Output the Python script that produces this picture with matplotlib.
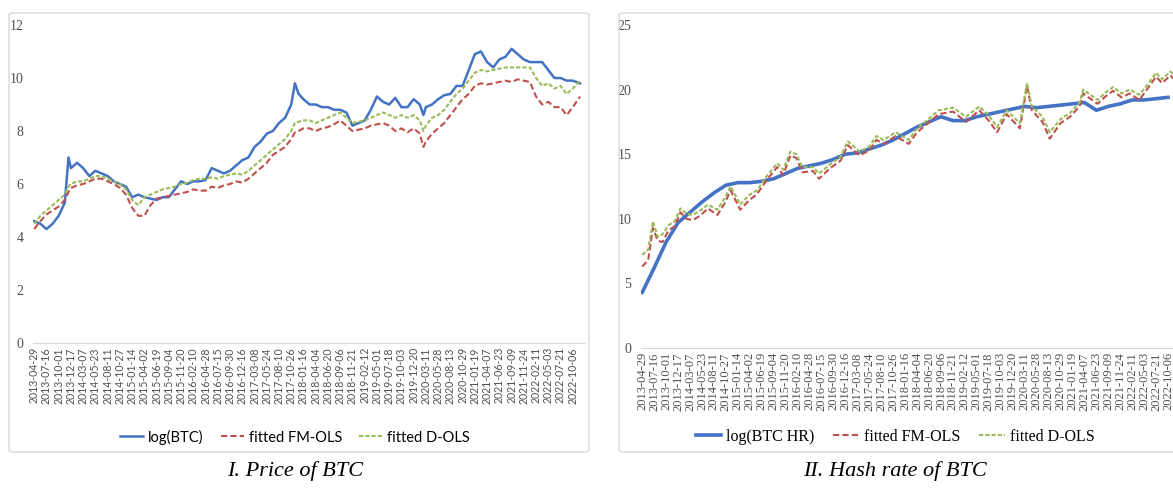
import numpy as np
import matplotlib
matplotlib.use("Agg")
import matplotlib.pyplot as plt
from matplotlib.patches import FancyBboxPatch

# tick labels (category axis, one label every 55 trading days)
date_labels = [
    "2013-04-29", "2013-07-16", "2013-10-01", "2013-12-17", "2014-03-07", "2014-05-23",
    "2014-08-11", "2014-10-27", "2015-01-14", "2015-04-02", "2015-06-19", "2015-09-04",
    "2015-11-20", "2016-02-10", "2016-04-28", "2016-07-15", "2016-09-30", "2016-12-16",
    "2017-03-08", "2017-05-24", "2017-08-10", "2017-10-26", "2018-01-16", "2018-04-04",
    "2018-06-20", "2018-09-06", "2018-11-21", "2019-02-12", "2019-05-01", "2019-07-18",
    "2019-10-03", "2019-12-20", "2020-03-11", "2020-05-28", "2020-08-13", "2020-10-29",
    "2021-01-19", "2021-04-07", "2021-06-23", "2021-09-09", "2021-11-24", "2022-02-11",
    "2022-05-03", "2022-07-21", "2022-10-06",
]

# --- panel I: price of BTC (x in tick-label units) ---
price_pos = [0, 0.5, 1, 1.5, 2, 2.5, 2.8, 3, 3.5, 4,
             4.5, 5, 5.5, 6, 6.5, 7, 7.5, 8, 8.5, 9,
             9.5, 10, 10.5, 11, 11.5, 12, 12.5, 13, 13.5, 14,
             14.5, 15, 15.5, 16, 16.5, 17, 17.5, 18, 18.5, 19,
             19.5, 20, 20.5, 21, 21.3, 21.6, 22, 22.5, 23, 23.5,
             24, 24.5, 25, 25.5, 26, 26.5, 27, 27.5, 28, 28.5,
             29, 29.5, 30, 30.5, 31, 31.5, 31.8, 32, 32.5, 33,
             33.5, 34, 34.5, 35, 35.5, 36, 36.5, 37, 37.5, 38,
             38.5, 39, 39.5, 40, 40.5, 41, 41.5, 42, 42.5, 43,
             43.5, 44, 44.6]

log_btc = [4.6, 4.5, 4.3, 4.5, 4.8, 5.3, 7.0, 6.6, 6.8, 6.6,
           6.3, 6.5, 6.4, 6.3, 6.1, 6.0, 5.9, 5.5, 5.6, 5.5,
           5.45, 5.4, 5.5, 5.5, 5.8, 6.1, 6.0, 6.1, 6.1, 6.15,
           6.6, 6.5, 6.4, 6.5, 6.7, 6.9, 7.0, 7.4, 7.6, 7.9,
           8.0, 8.3, 8.5, 9.0, 9.8, 9.4, 9.2, 9.0, 9.0, 8.9,
           8.9, 8.8, 8.8, 8.7, 8.2, 8.3, 8.4, 8.8, 9.3, 9.1,
           9.0, 9.25, 8.9, 8.9, 9.2, 9.0, 8.6, 8.9, 9.0, 9.2,
           9.35, 9.4, 9.7, 9.7, 10.3, 10.9, 11.0, 10.6, 10.4, 10.7,
           10.8, 11.1, 10.9, 10.7, 10.6, 10.6, 10.6, 10.3, 10.0, 10.0,
           9.9, 9.9, 9.8]

price_fm_ols = [4.3, 4.6, 4.85, 5.0, 5.15, 5.4, 5.7, 5.85, 5.95, 6.0,
                6.1, 6.2, 6.2, 6.1, 6.0, 5.85, 5.6, 5.1, 4.8, 4.8,
                5.2, 5.45, 5.5, 5.55, 5.6, 5.65, 5.7, 5.8, 5.75, 5.75,
                5.9, 5.85, 5.95, 6.0, 6.1, 6.05, 6.2, 6.4, 6.6, 6.8,
                7.1, 7.25, 7.4, 7.7, 7.95, 8.0, 8.1, 8.1, 8.0, 8.1,
                8.15, 8.25, 8.4, 8.2, 8.0, 8.05, 8.1, 8.2, 8.25, 8.3,
                8.2, 8.0, 8.1, 7.95, 8.1, 7.9, 7.4, 7.6, 7.9, 8.1,
                8.3, 8.6, 8.9, 9.2, 9.4, 9.7, 9.8, 9.75, 9.8, 9.85,
                9.9, 9.85, 9.95, 9.9, 9.85, 9.3, 9.0, 9.1, 8.9, 8.9,
                8.6, 8.9, 9.3]

price_d_ols = [4.5, 4.8, 5.0, 5.2, 5.4, 5.6, 5.9, 6.0, 6.1, 6.1,
               6.2, 6.3, 6.3, 6.2, 6.1, 6.0, 5.8, 5.4, 5.2, 5.5,
               5.6, 5.7, 5.8, 5.85, 5.9, 6.0, 6.05, 6.15, 6.2, 6.2,
               6.25, 6.2, 6.3, 6.35, 6.4, 6.35, 6.5, 6.7, 6.9, 7.1,
               7.3, 7.5, 7.7, 8.0, 8.3, 8.35, 8.4, 8.4, 8.3, 8.4,
               8.5, 8.6, 8.7, 8.5, 8.3, 8.35, 8.4, 8.5, 8.6, 8.7,
               8.6, 8.5, 8.6, 8.5, 8.6, 8.4, 8.0, 8.2, 8.5, 8.6,
               8.8, 9.1, 9.4, 9.6, 9.9, 10.2, 10.3, 10.25, 10.3, 10.35,
               10.4, 10.4, 10.4, 10.4, 10.4, 10.0, 9.7, 9.8, 9.6, 9.7,
               9.4, 9.6, 9.9]

# --- panel II: hash rate of BTC ---
hr_pos = list(range(45))
log_btc_hr = [4.3, 6.2, 8.2, 9.7, 10.5, 11.3, 12.0, 12.6, 12.8, 12.8,
              12.9, 13.1, 13.5, 13.9, 14.1, 14.3, 14.6, 15.0, 15.1, 15.4,
              15.7, 16.1, 16.6, 17.1, 17.5, 17.9, 17.6, 17.6, 17.9, 18.1,
              18.3, 18.5, 18.7, 18.6, 18.7, 18.8, 18.9, 19.0, 18.4, 18.7,
              18.9, 19.2, 19.2, 19.3, 19.4]

hr_fit_pos = [0, 0.5, 0.9, 1.3, 1.7, 2.2, 2.7, 3.2, 3.7, 4.2,
              4.8, 5.5, 6.3, 6.9, 7.4, 8.2, 8.9, 9.6, 10.5, 11.3,
              11.8, 12.4, 12.9, 13.4, 14.3, 14.8, 15.7, 16.6, 17.2, 18.2,
              19.0, 19.6, 20.2, 21.2, 22.3, 23.0, 23.8, 24.8, 26.0, 27.1,
              28.2, 29.0, 29.7, 30.5, 31.6, 32.2, 32.6, 33.5, 34.1, 35.0,
              35.8, 36.6, 36.9, 38.1, 38.8, 39.4, 40.1, 40.8, 41.6, 42.3,
              43.0, 43.5, 44.2, 44.6]

hr_d_ols = [7.2, 7.6, 9.8, 8.6, 8.8, 9.5, 9.8, 10.8, 10.4, 10.3,
            10.6, 11.1, 10.7, 11.6, 12.5, 11.1, 11.8, 12.2, 13.4, 14.3,
            13.8, 15.2, 15.0, 14.0, 14.0, 13.5, 14.2, 14.8, 16.0, 15.2,
            15.6, 16.4, 16.1, 16.7, 16.1, 17.0, 17.6, 18.4, 18.6, 17.9,
            18.7, 18.0, 17.1, 18.4, 17.4, 20.5, 18.7, 17.9, 16.7, 17.7,
            18.2, 19.0, 20.0, 19.2, 19.8, 20.2, 19.7, 20.0, 19.6, 20.4,
            21.3, 20.8, 21.4, 21.0]

hr_fm_ols = [6.3, 6.8, 9.3, 8.3, 8.2, 9.1, 9.4, 10.5, 10.0, 9.9,
             10.2, 10.8, 10.3, 11.2, 12.2, 10.7, 11.4, 11.9, 13.1, 14.0,
             13.4, 14.9, 14.7, 13.6, 13.7, 13.1, 13.9, 14.5, 15.7, 14.9,
             15.3, 16.1, 15.8, 16.4, 15.8, 16.7, 17.3, 18.1, 18.3, 17.5,
             18.4, 17.6, 16.7, 18.1, 17.0, 20.3, 18.4, 17.5, 16.2, 17.4,
             17.9, 18.7, 19.7, 18.9, 19.5, 19.9, 19.4, 19.7, 19.2, 20.1,
             21.0, 20.5, 21.1, 20.7]

BLUE = "#4472c4"
RED = "#c0504d"
GREEN = "#9bbb59"
FRAME = "#d9d9d9"
SERIF = "Liberation Serif"

W, H = 1173, 493
fig = plt.figure(figsize=(W / 100, H / 100), dpi=100)


def px_axes(x0, y_bottom, width, height):
    # pixel box -> figure fraction
    return fig.add_axes([x0 / W, 1 - y_bottom / H, width / W, height / H])


def style_axes(ax, ymax, ystep, xfont, xsize):
    ax.set_xlim(-0.1, 45.0)
    ax.set_ylim(0, ymax)
    ax.set_yticks(np.arange(0, ymax + 0.1, ystep))
    ax.set_xticks(range(len(date_labels)))
    ax.set_xticklabels(date_labels, rotation=90, fontfamily=xfont, fontsize=xsize, color="#505050")
    for lab in ax.get_yticklabels():
        lab.set_fontfamily(SERIF)
        lab.set_fontsize(10)
        lab.set_color("#505050")
    ax.tick_params(length=0, pad=7)
    ax.tick_params(axis="x", pad=3)
    for s in ["top", "right", "left"]:
        ax.spines[s].set_visible(False)
    ax.spines["bottom"].set_color(FRAME)
    ax.patch.set_alpha(0)


# panel frames (outline only, so the axes stay visible)
for x0, x1 in [(9, 589), (619, 1200)]:
    fig.patches.append(FancyBboxPatch(
        (x0 / W, 1 - 452 / H), (x1 - x0) / W, (452 - 13) / H,
        boxstyle="round,pad=0,rounding_size=0.004", transform=fig.transFigure,
        facecolor="none", edgecolor=FRAME, linewidth=1.0))

# panel I
ax1 = px_axes(33, 343, 552, 318)
style_axes(ax1, 12, 2, "Lato", 7.6)
l1, = ax1.plot(price_pos, log_btc, color=BLUE, linewidth=1.8)
l2, = ax1.plot(price_pos, price_fm_ols, color=RED, linewidth=1.5, dashes=(3, 1.5))
l3, = ax1.plot(price_pos, price_d_ols, color=GREEN, linewidth=1.5, dashes=(2, 1))
fig.legend([l1, l2, l3], ["log(BTC)", "fitted FM-OLS", "fitted D-OLS"],
           loc="center", bbox_to_anchor=(295 / W, 1 - 437 / H), ncol=3, frameon=False,
           handlelength=1.6, handletextpad=0.3, columnspacing=1.2,
           prop={"family": "Lato", "size": 10.5})

# panel II
ax2 = px_axes(641, 348, 539, 323)
style_axes(ax2, 25, 5, SERIF, 9)
r1, = ax2.plot(hr_pos, log_btc_hr, color=BLUE, linewidth=2.6)
r2, = ax2.plot(hr_fit_pos, hr_fm_ols, color=RED, linewidth=1.5, dashes=(3, 1.5))
r3, = ax2.plot(hr_fit_pos, hr_d_ols, color=GREEN, linewidth=1.5, dashes=(2, 1))
fig.legend([r1, r2, r3], ["log(BTC HR)", "fitted FM-OLS", "fitted D-OLS"],
           loc="center", bbox_to_anchor=(895 / W, 1 - 437 / H), ncol=3, frameon=False,
           handlelength=1.6, handletextpad=0.3, columnspacing=1.2,
           prop={"family": SERIF, "size": 11.5})

# captions under each panel
fig.text(295 / W, 1 - 471 / H, "I. Price of BTC", ha="center", va="center",
         fontfamily=SERIF, fontstyle="italic", fontsize=16)
fig.text(895 / W, 1 - 471 / H, "II. Hash rate of BTC", ha="center", va="center",
         fontfamily=SERIF, fontstyle="italic", fontsize=16)

fig.savefig("out.png", dpi=100)
